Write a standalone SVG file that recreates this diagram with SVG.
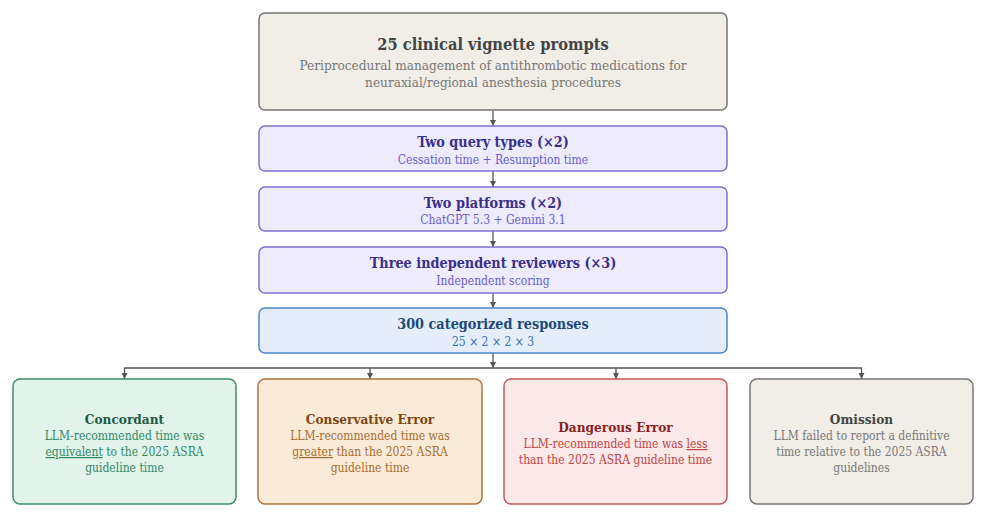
<svg xmlns="http://www.w3.org/2000/svg" width="986" height="518" viewBox="0 0 986 518">
<defs>
<marker id="ah" viewBox="0 0 10 10" refX="10" refY="5" markerWidth="6" markerHeight="6" markerUnits="userSpaceOnUse" orient="auto">
<path d="M0,0 L10,5 L0,10 z" fill="#555"/>
</marker>
<style>
text{font-family:"DejaVu Serif Condensed","DejaVu Serif",serif;text-anchor:middle}
.t{font-weight:bold}
.box{stroke-width:1.5}
.conn{stroke:#555;stroke-width:1.3;fill:none}
.gray rect{fill:#f1eee8;stroke:#777}
.gray .t{fill:#444}
.gray .s{fill:#777}
.pur rect{fill:#eeecfc;stroke:#7e70d0}
.pur .t{fill:#3b2f8c}
.pur .s{fill:#6a5bcc}
.blue rect{fill:#e3eefa;stroke:#4b86c6}
.blue .t{fill:#1d4a7a}
.blue .s{fill:#3b6fae}
.grn rect{fill:#e2f3ec;stroke:#3d8f6a}
.grn .t{fill:#1a5b3f}
.grn .s{fill:#2f8a62}
.org rect{fill:#faebd9;stroke:#a9753c}
.org .t{fill:#7a4512}
.org .s{fill:#a86b2c}
.red rect{fill:#fbe9e9;stroke:#c05b5b}
.red .t{fill:#8a1f1f}
.red .s{fill:#c04343}
.u{text-decoration:underline}
</style>
</defs>
<rect width="986" height="518" fill="#fff"/>

<g id="connectors">
<line class="conn" x1="493" y1="110" x2="493" y2="126" marker-end="url(#ah)"/>
<line class="conn" x1="493" y1="171" x2="493" y2="187" marker-end="url(#ah)"/>
<line class="conn" x1="493" y1="231" x2="493" y2="247" marker-end="url(#ah)"/>
<line class="conn" x1="493" y1="293" x2="493" y2="308" marker-end="url(#ah)"/>
<line class="conn" x1="493" y1="353" x2="493" y2="368" marker-end="url(#ah)"/>
<line class="conn" x1="124" y1="368" x2="862" y2="368"/>
<line class="conn" x1="124.5" y1="368" x2="124.5" y2="379" marker-end="url(#ah)"/>
<line class="conn" x1="370" y1="368" x2="370" y2="379" marker-end="url(#ah)"/>
<line class="conn" x1="616" y1="368" x2="616" y2="379" marker-end="url(#ah)"/>
<line class="conn" x1="861.5" y1="368" x2="861.5" y2="379" marker-end="url(#ah)"/>
</g>

<g id="prompts" class="gray">
<rect class="box" x="259" y="13" width="468" height="97" rx="6"/>
<text class="t" x="493" y="50" font-size="16.3">25 clinical vignette prompts</text>
<text class="s" x="493" y="70" font-size="13.5">Periprocedural management of antithrombotic medications for</text>
<text class="s" x="493" y="87" font-size="13.5">neuraxial/regional anesthesia procedures</text>
</g>

<g id="query-types" class="pur">
<rect class="box" x="259" y="126" width="468" height="45" rx="6"/>
<text class="t" x="493" y="147" font-size="14.3">Two query types (×2)</text>
<text class="s" x="493" y="164" font-size="12">Cessation time + Resumption time</text>
</g>

<g id="platforms" class="pur">
<rect class="box" x="259" y="187" width="468" height="44" rx="6"/>
<text class="t" x="493" y="208" font-size="14.3">Two platforms (×2)</text>
<text class="s" x="493" y="224" font-size="12">ChatGPT 5.3 + Gemini 3.1</text>
</g>

<g id="reviewers" class="pur">
<rect class="box" x="259" y="247" width="468" height="46" rx="6"/>
<text class="t" x="493" y="268" font-size="14.3">Three independent reviewers (×3)</text>
<text class="s" x="493" y="285" font-size="12">Independent scoring</text>
</g>

<g id="responses" class="blue">
<rect class="box" x="259" y="308" width="468" height="45" rx="6"/>
<text class="t" x="493" y="329" font-size="14.3">300 categorized responses</text>
<text class="s" x="493" y="346" font-size="12">25 × 2 × 2 × 3</text>
</g>

<g id="concordant" class="grn">
<rect class="box" x="13" y="379" width="223" height="125" rx="7"/>
<text class="t" x="124.5" y="424" font-size="13.5">Concordant</text>
<text class="s" x="124.5" y="440" font-size="12">LLM-recommended time was</text>
<text class="s" x="124.5" y="456" font-size="12"><tspan class="u">equivalent</tspan> to the 2025 ASRA</text>
<text class="s" x="124.5" y="472" font-size="12">guideline time</text>
</g>

<g id="conservative" class="org">
<rect class="box" x="258" y="379" width="224" height="125" rx="7"/>
<text class="t" x="370" y="424" font-size="13.5">Conservative Error</text>
<text class="s" x="370" y="440" font-size="12">LLM-recommended time was</text>
<text class="s" x="370" y="456" font-size="12"><tspan class="u">greater</tspan> than the 2025 ASRA</text>
<text class="s" x="370" y="472" font-size="12">guideline time</text>
</g>

<g id="dangerous" class="red">
<rect class="box" x="504" y="379" width="223" height="125" rx="7"/>
<text class="t" x="615.5" y="432" font-size="13.5">Dangerous Error</text>
<text class="s" x="615.5" y="448" font-size="12">LLM-recommended time was <tspan class="u">less</tspan></text>
<text class="s" x="615.5" y="464" font-size="12">than the 2025 ASRA guideline time</text>
</g>

<g id="omission" class="gray">
<rect class="box" x="750" y="379" width="223" height="125" rx="7"/>
<text class="t" x="861.5" y="424" font-size="13.5">Omission</text>
<text class="s" x="861.5" y="440" font-size="12">LLM failed to report a definitive</text>
<text class="s" x="861.5" y="456" font-size="12">time relative to the 2025 ASRA</text>
<text class="s" x="861.5" y="472" font-size="12">guidelines</text>
</g>
</svg>
